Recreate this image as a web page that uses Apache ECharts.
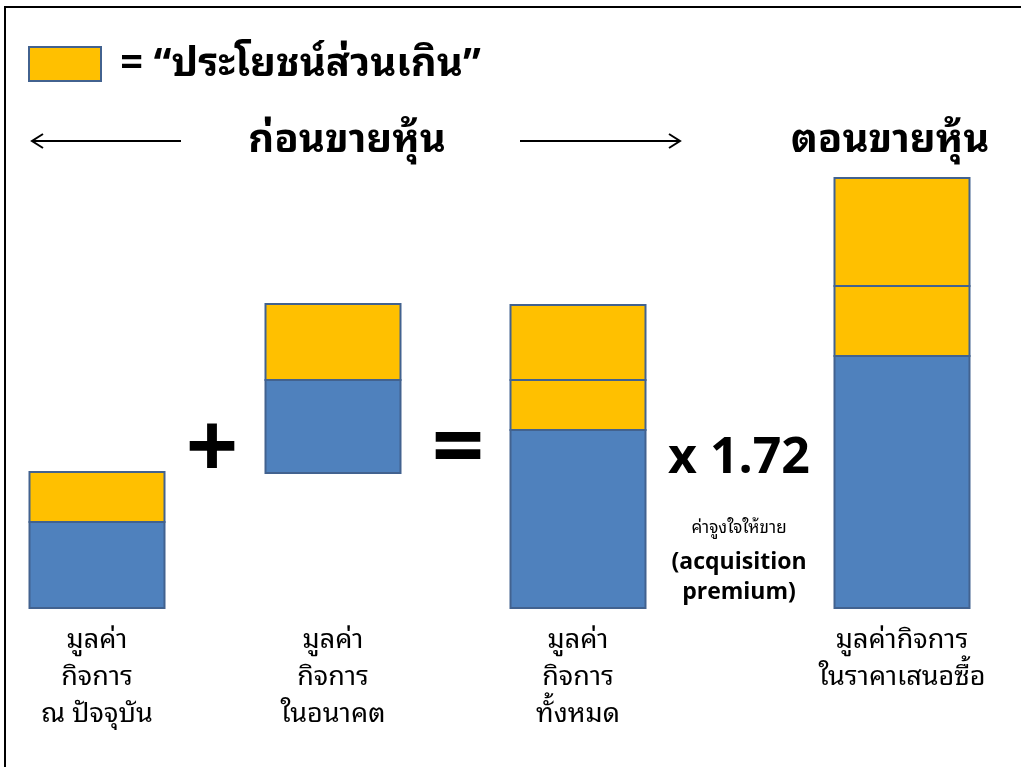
<!DOCTYPE html>
<html>
<head>
<meta charset="utf-8">
<script src="https://cdn.jsdelivr.net/npm/echarts@6/dist/echarts.min.js"></script>
<style>
  html, body { margin: 0; padding: 0; background: #fff; }
  #chart { width: 1021px; height: 767px; }
</style>
</head>
<body>
<div id="chart"></div>
<script>
// bar centres along the hidden x axis, and their labels
var barX = [97, 333, 578, 902];
var barLabels = [
  ['มูลค่า', 'กิจการ', 'ณ ปัจจุบัน'],
  ['มูลค่า', 'กิจการ', 'ในอนาคต'],
  ['มูลค่า', 'กิจการ', 'ทั้งหมด'],
  ['มูลค่ากิจการ', 'ในราคาเสนอซื้อ']
];
// stack pieces, bottom to top
var offsetVals = [0, 135, 0, 0];     // empty lift under the floating bar
var blueVals = [86, 93, 178, 252];   // มูลค่ากิจการ
var yellow1Vals = [50, 76, 50, 70];  // ประโยชน์ส่วนเกิน
var yellow2Vals = [0, 0, 75, 108];

var BAR_W = 135;
var BLUE = '#4f81bd', YELLOW = '#ffc000', EDGE = '#42628f';
var THAI = '"Noto Sans Thai Looped", "Loma", "Garuda", "Norasi", "Noto Sans Thai", sans-serif';
var LATIN = '"Open Sans", sans-serif';

// turn the stacks into [x, from, to] pieces
var bluePieces = [], yellowPieces = [];
barX.forEach(function (x, i) {
  var y = offsetVals[i];
  bluePieces.push([x, y, y + blueVals[i]]);
  y += blueVals[i];
  [yellow1Vals[i], yellow2Vals[i]].forEach(function (v) {
    if (v > 0) {
      yellowPieces.push([x, y, y + v]);
      y += v;
    }
  });
});

function pieceRenderer(color) {
  return function (params, api) {
    var top = api.coord([api.value(0), api.value(2)]);
    var bot = api.coord([api.value(0), api.value(1)]);
    var w = api.size([BAR_W, 0])[0];
    return {
      type: 'rect',
      shape: { x: top[0] - w / 2, y: top[1], width: w, height: bot[1] - top[1] },
      style: { fill: color, stroke: EDGE, lineWidth: 2 }
    };
  };
}

var myChart = echarts.init(document.getElementById('chart'));

function txt(x, y, text, font, extra) {
  var s = { text: text, font: font, fill: '#000', align: 'center', verticalAlign: 'middle' };
  if (extra) for (var k in extra) s[k] = extra[k];
  return { type: 'text', x: x, y: y, style: s };
}

var graphics = [
  // frame
  { type: 'rect', shape: { x: 5, y: 7, width: 1030, height: 800 }, style: { fill: null, stroke: '#000', lineWidth: 2 } },
  // legend swatch
  { type: 'rect', shape: { x: 29, y: 47, width: 72, height: 34 }, style: { fill: YELLOW, stroke: EDGE, lineWidth: 2 } },
  txt(120, 65, '= “ประโยชน์ส่วนเกิน”', 'bold 40px ' + THAI, { align: 'left' }),
  // arrows
  { type: 'line', shape: { x1: 32, y1: 141, x2: 181, y2: 141 }, style: { stroke: '#000', lineWidth: 2 } },
  { type: 'polyline', shape: { points: [[43, 134], [32, 141], [43, 148]] }, style: { stroke: '#000', lineWidth: 2, fill: null } },
  { type: 'line', shape: { x1: 520, y1: 141, x2: 680, y2: 141 }, style: { stroke: '#000', lineWidth: 2 } },
  { type: 'polyline', shape: { points: [[669, 134], [680, 141], [669, 148]] }, style: { stroke: '#000', lineWidth: 2, fill: null } },
  txt(347, 141, 'ก่อนขายหุ้น', 'bold 40px ' + THAI),
  txt(890, 141, 'ตอนขายหุ้น', 'bold 40px ' + THAI),
  // operators
  txt(212, 452, '+', 'bold 92px ' + LATIN),
  txt(458, 452, '=', 'bold 92px ' + LATIN),
  txt(739, 459, 'x 1.72', 'bold 50px ' + LATIN),
  txt(739, 528, 'ค่าจูงใจให้ขาย', '17px ' + THAI),
  txt(739, 562, '(acquisition', 'bold 23px ' + LATIN),
  txt(739, 592, 'premium)', 'bold 23px ' + LATIN)
];

barLabels.forEach(function (lines, i) {
  lines.forEach(function (t, j) {
    graphics.push(txt(barX[i], 640 + j * 37, t, '27px ' + THAI));
  });
});

var option = {
  animation: false,
  backgroundColor: '#fff',
  grid: { left: 0, right: 0, top: 178, bottom: 159 },
  xAxis: { type: 'value', min: 0, max: 1021, show: false },
  yAxis: { type: 'value', min: 0, max: 430, show: false, splitLine: { show: false } },
  series: [
    { name: 'มูลค่ากิจการ', type: 'custom', renderItem: pieceRenderer(BLUE), data: bluePieces, encode: { x: 0, y: [1, 2] }, silent: true },
    { name: 'ประโยชน์ส่วนเกิน', type: 'custom', renderItem: pieceRenderer(YELLOW), data: yellowPieces, encode: { x: 0, y: [1, 2] }, silent: true }
  ],
  graphic: graphics
};

myChart.setOption(option);
</script>
</body>
</html>
